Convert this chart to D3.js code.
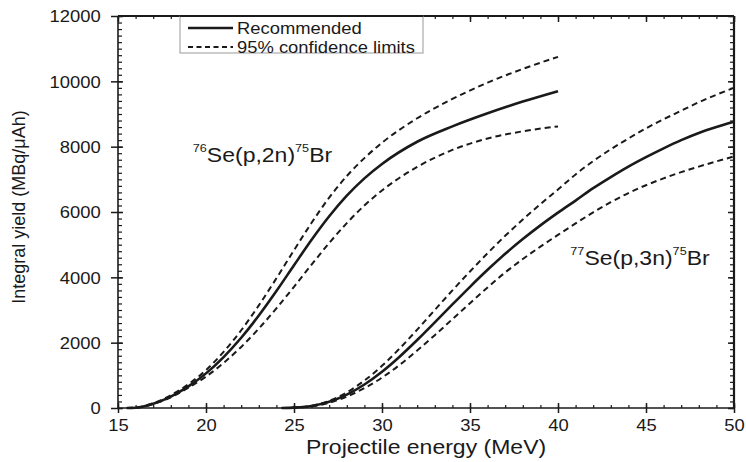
<!DOCTYPE html>
<html>
<head>
<meta charset="utf-8">
<script src="https://cdn.jsdelivr.net/npm/d3@7"></script>
<style>
  body { margin: 0; background: #fff; }
  svg { display: block; font-family: "Liberation Sans", Arial, sans-serif; }
</style>
</head>
<body>
<svg id="chart" width="746" height="462"></svg>
<script>
// 76Se(p,2n)75Br
const energyA = [15.5, 16, 17, 18, 19, 20, 21, 22, 23, 24, 25, 26, 27, 28, 29, 30, 32, 34, 36, 38, 40];
const recA = [0, 10, 130, 350, 660, 1060, 1560, 2150, 2830, 3580, 4370, 5150, 5870, 6500, 7030, 7470, 8150, 8620, 9020, 9380, 9700];
const upA  = [0, 12, 150, 390, 730, 1160, 1720, 2380, 3140, 3970, 4830, 5670, 6440, 7100, 7650, 8120, 8870, 9460, 9960, 10380, 10750];
const loA  = [0, 8, 120, 330, 620, 960, 1380, 1870, 2430, 3050, 3710, 4390, 5050, 5660, 6200, 6660, 7380, 7900, 8250, 8470, 8620];

// 77Se(p,3n)75Br
const energyB = [24.3, 25, 26, 27, 28, 29, 30, 31, 32, 33, 34, 35, 36, 37, 38, 39, 40, 41, 42, 43, 44, 45, 46, 47, 48, 49, 50];
const recB = [0, 10, 60, 190, 410, 720, 1110, 1570, 2080, 2620, 3170, 3710, 4230, 4720, 5170, 5590, 5980, 6350, 6730, 7070, 7390, 7680, 7950, 8200, 8420, 8600, 8760];
const upB  = [0, 12, 70, 220, 480, 840, 1290, 1820, 2400, 3000, 3600, 4180, 4740, 5270, 5770, 6240, 6690, 7150, 7560, 7920, 8250, 8560, 8840, 9100, 9360, 9590, 9800];
const loB  = [0, 8, 50, 160, 350, 610, 930, 1320, 1760, 2230, 2720, 3210, 3690, 4150, 4560, 4940, 5300, 5650, 5990, 6300, 6580, 6820, 7030, 7220, 7390, 7550, 7700];

const xTicks = [15, 20, 25, 30, 35, 40, 45, 50];
const yTicks = [0, 2000, 4000, 6000, 8000, 10000, 12000];
const xMinor = d3.range(15, 50.01, 1);
const yMinor = d3.range(0, 12001, 200);

const legendLabels = ["Recommended", "95% confidence limits"];
const xTitle = "Projectile energy (MeV)";
const yTitle = "Integral yield (MBq/\u03bcAh)";

const SX = 1.15; // the source figure is stretched a bit horizontally
const ink = "#1a1a1a";

const svg = d3.select("#chart");
const margin = { top: 16, right: 12, bottom: 54, left: 118 };
const width = 746 - margin.left - margin.right;
const height = 462 - margin.top - margin.bottom;

const g = svg.append("g")
  .attr("transform", `translate(${margin.left},${margin.top})`);

const x = d3.scaleLinear().domain([15, 50]).range([0, width]);
const y = d3.scaleLinear().domain([0, 12000]).range([height, 0]);

function styleAxis(sel, w) {
  sel.select(".domain").remove();
  sel.selectAll("line").attr("stroke", ink).attr("stroke-width", w);
}

// minor ticks (inside)
g.append("g").attr("transform", `translate(0,${height})`)
  .call(d3.axisBottom(x).tickValues(xMinor).tickSize(-3).tickFormat(""))
  .call(s => styleAxis(s, 1.2));
g.append("g")
  .call(d3.axisTop(x).tickValues(xMinor).tickSize(-3).tickFormat(""))
  .call(s => styleAxis(s, 1.2));
g.append("g")
  .call(d3.axisLeft(y).tickValues(yMinor).tickSize(-4).tickFormat(""))
  .call(s => styleAxis(s, 1.2));
g.append("g").attr("transform", `translate(${width},0)`)
  .call(d3.axisRight(y).tickValues(yMinor).tickSize(-4).tickFormat(""))
  .call(s => styleAxis(s, 1.2));

// major ticks: crossing on left/bottom, inside on top/right
g.append("g").attr("transform", `translate(0,${height})`)
  .call(d3.axisBottom(x).tickValues(xTicks).tickSize(-5).tickFormat(""))
  .call(s => styleAxis(s, 1.5));
g.append("g")
  .call(d3.axisTop(x).tickValues(xTicks).tickSize(-6).tickFormat(""))
  .call(s => styleAxis(s, 1.5));
g.append("g")
  .call(d3.axisLeft(y).tickValues(yTicks).tickSize(-5).tickFormat(""))
  .call(s => styleAxis(s, 1.5));
g.append("g").attr("transform", `translate(${width},0)`)
  .call(d3.axisRight(y).tickValues(yTicks).tickSize(-6).tickFormat(""))
  .call(s => styleAxis(s, 1.5));

// labelled axes
const xAxis = g.append("g").attr("transform", `translate(0,${height})`)
  .call(d3.axisBottom(x).tickValues(xTicks).tickSize(5).tickFormat(d3.format("d")));
styleAxis(xAxis, 1.5);
xAxis.selectAll("text")
  .attr("y", 23).attr("dy", null)
  .attr("transform", `scale(${SX},1)`)
  .style("font-size", "16px").attr("fill", ink);

const yAxis = g.append("g")
  .call(d3.axisLeft(y).tickValues(yTicks).tickSize(7).tickFormat(d3.format("d")));
styleAxis(yAxis, 1.5);
yAxis.selectAll("text")
  .attr("x", -15).attr("dy", "0.36em")
  .attr("transform", `scale(${SX},1)`)
  .style("font-size", "16px").attr("fill", ink);

// frame
g.append("line").attr("x1", 0).attr("x2", 0).attr("y1", 0).attr("y2", height)
  .attr("stroke", ink).attr("stroke-width", 1.6);
g.append("line").attr("x1", 0).attr("x2", width).attr("y1", height).attr("y2", height)
  .attr("stroke", ink).attr("stroke-width", 1.6);
g.append("line").attr("x1", 0).attr("x2", width).attr("y1", 0).attr("y2", 0)
  .attr("stroke", ink).attr("stroke-width", 2.2);
g.append("line").attr("x1", width).attr("x2", width).attr("y1", 0).attr("y2", height)
  .attr("stroke", ink).attr("stroke-width", 2.2);

// curves
const line = d3.line()
  .x(d => x(d[0]))
  .y(d => y(d[1]))
  .curve(d3.curveMonotoneX);

const series = [
  { e: energyA, v: recA, dash: null },
  { e: energyA, v: upA, dash: "6,4" },
  { e: energyA, v: loA, dash: "6,4" },
  { e: energyB, v: recB, dash: null },
  { e: energyB, v: upB, dash: "6,4" },
  { e: energyB, v: loB, dash: "6,4" }
];

series.forEach(s => {
  g.append("path")
    .datum(s.e.map((e, i) => [e, s.v[i]]))
    .attr("fill", "none")
    .attr("stroke", ink)
    .attr("stroke-width", s.dash ? 2 : 2.6)
    .attr("stroke-dasharray", s.dash)
    .attr("d", line);
});

// reaction labels
function reaction(e, v, a, mid, b) {
  const t = g.append("text")
    .attr("transform", `translate(${x(e)},${y(v)}) scale(${SX},1)`)
    .attr("fill", ink);
  t.append("tspan").style("font-size", "11px").attr("dy", -10).text(a);
  t.append("tspan").style("font-size", "20px").attr("dy", 10).text(mid);
  t.append("tspan").style("font-size", "11px").attr("dy", -10).text(b);
  t.append("tspan").style("font-size", "20px").attr("dy", 10).text("Br");
}
reaction(19.25, 7520, "76", "Se(p,2n)", "75");
reaction(40.7, 4370, "77", "Se(p,3n)", "75");

// legend
const lg = g.append("g").attr("transform", "translate(62,0)");
lg.append("rect")
  .attr("x", 0).attr("y", 0).attr("width", 243).attr("height", 37)
  .attr("fill", "#fff").attr("stroke", "#999").attr("stroke-width", 1);
g.append("line").attr("x1", 62).attr("x2", 305).attr("y1", 0).attr("y2", 0)
  .attr("stroke", ink).attr("stroke-width", 2.2);
legendLabels.forEach((lab, i) => {
  const yy = 12 + i * 19;
  lg.append("line")
    .attr("x1", 8).attr("x2", 53).attr("y1", yy).attr("y2", yy)
    .attr("stroke", ink)
    .attr("stroke-width", i === 0 ? 2.4 : 1.8)
    .attr("stroke-dasharray", i === 0 ? null : "5,3.5");
  lg.append("text")
    .attr("transform", `translate(57,${yy + 5.5}) scale(${SX},1)`)
    .style("font-size", "16px")
    .attr("fill", ink)
    .text(lab);
});

// titles
svg.append("text")
  .attr("transform", `translate(${margin.left + width / 2},454) scale(${SX},1)`)
  .attr("text-anchor", "middle")
  .style("font-size", "20px")
  .attr("fill", ink)
  .text(xTitle);

svg.append("text")
  .attr("transform", "translate(25,207) rotate(-90)")
  .attr("text-anchor", "middle")
  .style("font-size", "18px")
  .attr("fill", ink)
  .text(yTitle);
</script>
</body>
</html>
